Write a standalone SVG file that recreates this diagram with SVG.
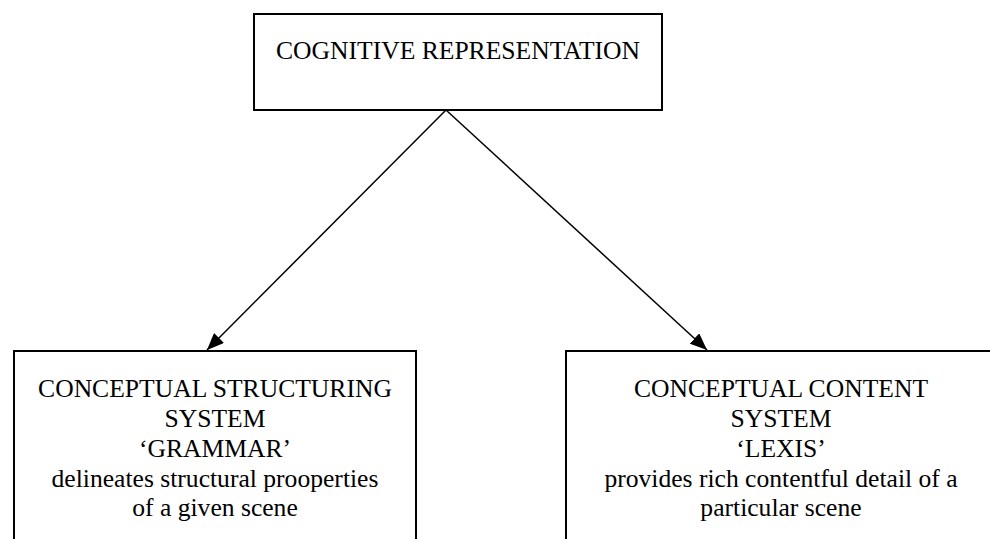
<svg xmlns="http://www.w3.org/2000/svg" width="990" height="539" viewBox="0 0 990 539">
<style>
.box{fill:#fff;stroke:#000;stroke-width:2}
.t{font-size:25.6px;fill:#000;text-anchor:middle}
.c{stroke:#000;stroke-width:1.5;fill:none}
</style>
<defs>
<marker id="ah" viewBox="0 0 17 14" refX="17" refY="7" markerWidth="17" markerHeight="14" markerUnits="userSpaceOnUse" orient="auto">
<path d="M0,0 L17,7 L0,14 Z" fill="#000"/>
</marker>
</defs>
<rect width="990" height="539" fill="#fff"/>
<g id="connectors">
<line class="c" x1="446" y1="110" x2="207" y2="350" marker-end="url(#ah)"/>
<line class="c" x1="446" y1="110" x2="707" y2="350" marker-end="url(#ah)"/>
</g>
<g font-family="'Liberation Serif', 'DejaVu Serif', 'Times New Roman', Times, serif">
<g id="cognitive-representation">
<rect class="box" x="254" y="14" width="408" height="96"/>
<text class="t" x="458" y="59">COGNITIVE REPRESENTATION</text>
</g>
<g id="conceptual-structuring-system">
<rect class="box" x="14" y="351" width="402" height="210"/>
<text class="t" x="215" y="397">CONCEPTUAL STRUCTURING</text>
<text class="t" x="215" y="427">SYSTEM</text>
<text class="t" x="215" y="457">&#8216;GRAMMAR&#8217;</text>
<text class="t" x="215" y="487">delineates structural prooperties</text>
<text class="t" x="215" y="516">of a given scene</text>
</g>
<g id="conceptual-content-system">
<rect class="box" x="566" y="351" width="430" height="210"/>
<text class="t" x="781" y="397">CONCEPTUAL CONTENT</text>
<text class="t" x="781" y="427">SYSTEM</text>
<text class="t" x="781" y="457">&#8216;LEXIS&#8217;</text>
<text class="t" x="781" y="487">provides rich contentful detail of a</text>
<text class="t" x="781" y="516">particular scene</text>
</g>
</g>
</svg>
